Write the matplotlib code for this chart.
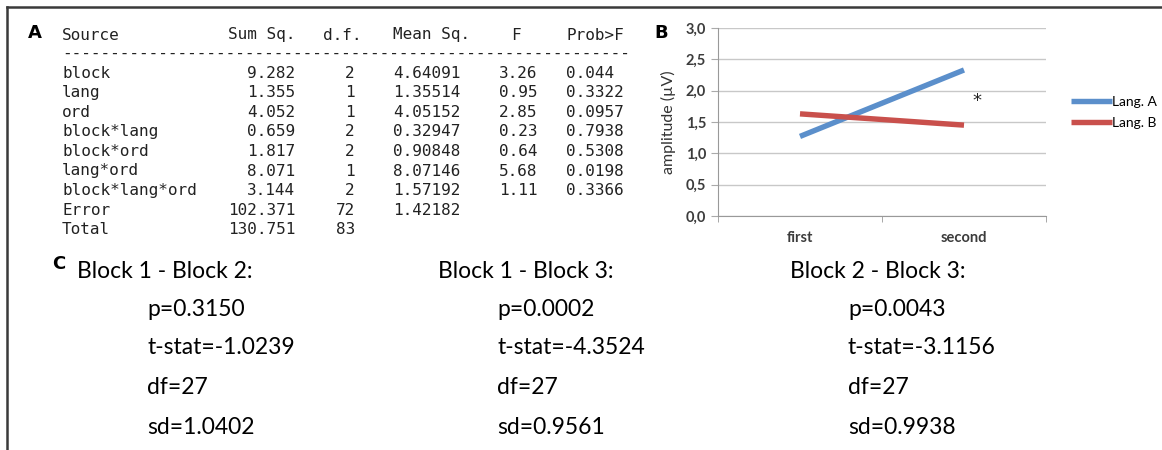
import matplotlib
matplotlib.use("Agg")
import matplotlib.pyplot as plt
from matplotlib.lines import Line2D

W, H = 1162, 450

# ANOVA table (panel A)
sources = ["block", "lang", "ord", "block*lang", "block*ord", "lang*ord",
           "block*lang*ord", "Error", "Total"]
sum_sq = ["9.282", "1.355", "4.052", "0.659", "1.817", "8.071", "3.144",
          "102.371", "130.751"]
dof = ["2", "1", "1", "2", "2", "1", "2", "72", "83"]
mean_sq = ["4.64091", "1.35514", "4.05152", "0.32947", "0.90848", "8.07146",
           "1.57192", "1.42182", ""]
f_val = ["3.26", "0.95", "2.85", "0.23", "0.64", "5.68", "1.11", "", ""]
prob_f = ["0.044", "0.3322", "0.0957", "0.7938", "0.5308", "0.0198", "0.3366",
          "", ""]

# Interaction plot (panel B)
order = ["first", "second"]
lang_a = [1.27, 2.33]
lang_b = [1.63, 1.45]
yticks = [0.0, 0.5, 1.0, 1.5, 2.0, 2.5, 3.0]

# Pairwise block comparisons (panel C)
pairs = ["Block 1 - Block 2:", "Block 1 - Block 3:", "Block 2 - Block 3:"]
p_vals = ["0.3150", "0.0002", "0.0043"]
t_stats = ["-1.0239", "-4.3524", "-3.1156"]
dfs = ["27", "27", "27"]
sds = ["1.0402", "0.9561", "0.9938"]


def fx(x):
    return x / W


def fy(y):
    return 1 - y / H


fig = plt.figure(figsize=(W / 100, H / 100), dpi=100)
fig.patch.set_facecolor("white")

# frame lines on top and left
fig.add_artist(Line2D([fx(7), fx(W)], [fy(7), fy(7)], color="#3a3a3a", lw=1.8))
fig.add_artist(Line2D([fx(7), fx(7)], [fy(7), fy(H)], color="#3a3a3a", lw=1.8))

# ---- panel A ----
MONO = "DejaVu Sans Mono"
tsize = 11.5
tcol = "#222222"


def mono(x, y, s, ha="left"):
    fig.text(fx(x), fy(y), s, family=MONO, fontsize=tsize, color=tcol,
             va="center", ha=ha)


fig.text(fx(28), fy(33), "A", fontsize=13, fontweight="bold", family="DejaVu Sans",
         va="center", ha="left")

header_y = 35
mono(62, header_y, "Source")
mono(295, header_y, "Sum Sq.", ha="right")
mono(362, header_y, "d.f.", ha="right")
mono(393, header_y, "Mean Sq.")
mono(511, header_y, "F")
mono(566, header_y, "Prob>F")
mono(62, 53, "-" * 59)

for i, src in enumerate(sources):
    y = 73 + 19.6 * i
    mono(62, y, src)
    mono(295, y, sum_sq[i], ha="right")
    mono(355, y, dof[i], ha="right")
    mono(393, y, mean_sq[i])
    mono(499, y, f_val[i])
    mono(566, y, prob_f[i])

# ---- panel B ----
BFONT = ["Lato", "DejaVu Sans"]
ax_l, ax_r, ax_t, ax_b = 718, 1046, 28, 216
ax = fig.add_axes([fx(ax_l), fy(ax_b), (ax_r - ax_l) / W, (ax_b - ax_t) / H])
xpos = list(range(len(order)))
ax.plot(xpos, lang_a, color="#5b8fcb", lw=3.9, solid_capstyle="butt", label="Lang. A", zorder=3)
ax.plot(xpos, lang_b, color="#c9504c", lw=3.9, solid_capstyle="butt", label="Lang. B", zorder=3)
ax.set_xlim(-0.5, 1.5)
ax.set_ylim(0, 3)
ax.set_yticks(yticks)
ax.set_yticklabels([f"{v:.1f}".replace(".", ",") for v in yticks],
                   family=BFONT, fontweight="bold")
ax.set_xticks(xpos)
ax.set_xticklabels(order, family=BFONT, fontweight="bold")
ax.set_xticks([-0.5, 0.5, 1.5], minor=True)
ax.tick_params(axis="x", which="major", length=0, pad=11, labelsize=10.5, colors="#3c3c3c")
ax.tick_params(axis="x", which="minor", length=4, color="#999999", direction="out")
ax.tick_params(axis="y", length=5, color="#aaaaaa", labelsize=10.5, colors="#3c3c3c")
ax.yaxis.grid(True, color="#c8c8c8", lw=1)
ax.set_axisbelow(True)
for s in ("top", "right"):
    ax.spines[s].set_visible(False)
ax.spines["left"].set_color("#999999")
ax.spines["bottom"].set_color("#999999")
ax.set_ylabel("amplitude (µV)", fontsize=11.5, color="#333333", labelpad=7, family=BFONT)
ax.text(1.08, 1.84, "*", fontsize=13, ha="center", va="center", color="#222222")
leg = ax.legend(loc="center left", bbox_to_anchor=(1.06, 0.55), frameon=False,
                prop={"family": BFONT, "size": 10}, handlelength=2.9,
                handletextpad=0.0, labelspacing=0.65, borderaxespad=0.0)
for h in leg.get_lines():
    h.set_linewidth(3.9)

fig.text(fx(654), fy(33), "B", fontsize=13, fontweight="bold", family="DejaVu Sans",
         va="center", ha="left")

# ---- panel C ----
CFONT = ["Lato", "DejaVu Sans"]
csize = 16.5
fig.text(fx(52), fy(264), "C", fontsize=13, fontweight="bold", family="DejaVu Sans",
         va="center", ha="left")
head_x = [77, 438, 790]
val_x = [147, 497, 848]
rows_y = [271, 309, 348, 388, 428]
for j in range(len(pairs)):
    fig.text(fx(head_x[j]), fy(rows_y[0]), pairs[j], family=CFONT, fontsize=csize, va="center")
    fig.text(fx(val_x[j]), fy(rows_y[1]), f"p={p_vals[j]}", family=CFONT, fontsize=csize, va="center")
    fig.text(fx(val_x[j]), fy(rows_y[2]), f"t-stat={t_stats[j]}", family=CFONT, fontsize=csize, va="center")
    fig.text(fx(val_x[j]), fy(rows_y[3]), f"df={dfs[j]}", family=CFONT, fontsize=csize, va="center")
    fig.text(fx(val_x[j]), fy(rows_y[4]), f"sd={sds[j]}", family=CFONT, fontsize=csize, va="center")

fig.savefig("out.png", dpi=100, facecolor="white")
